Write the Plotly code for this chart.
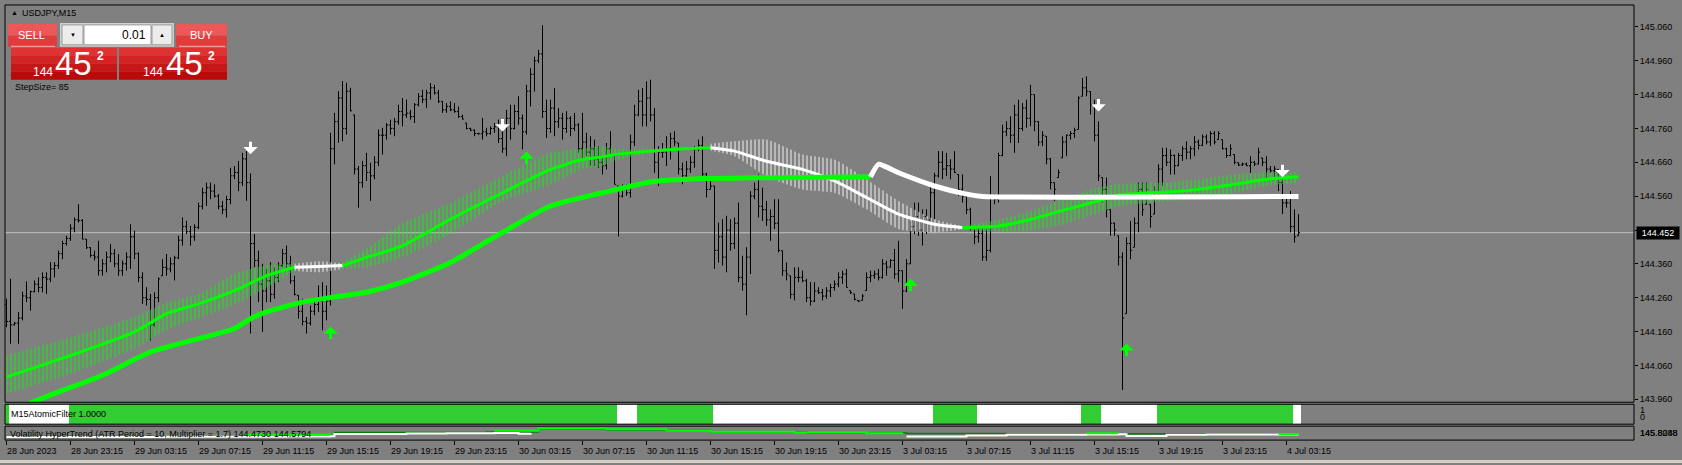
import plotly.graph_objects as go

W, H = 1682, 465
FONT = "Liberation Sans, Arial, sans-serif"


def px(x):
    return x / W


def py(y):
    return 1 - y / H


# ------------------------------------------------------------------ data
symbol = "USDJPY,M15"
current_price = 144.452

time_label_bars = [0, 16, 32, 48, 64, 80, 96, 112, 128, 144, 160, 176, 192, 208,
                   224, 240, 256, 272, 288, 304, 320]
time_labels = ["28 Jun 2023", "28 Jun 23:15", "29 Jun 03:15", "29 Jun 07:15", "29 Jun 11:15",
               "29 Jun 15:15", "29 Jun 19:15", "29 Jun 23:15", "30 Jun 03:15", "30 Jun 07:15",
               "30 Jun 11:15", "30 Jun 15:15", "30 Jun 19:15", "30 Jun 23:15", "3 Jul 03:15",
               "3 Jul 07:15", "3 Jul 11:15", "3 Jul 15:15", "3 Jul 19:15", "3 Jul 23:15",
               "4 Jul 03:15"]

price_ticks = [143.96, 144.06, 144.16, 144.26, 144.36, 144.46, 144.56, 144.66,
               144.76, 144.86, 144.96, 145.06]

opens = [
    144.240, 144.190, 144.180, 144.185, 144.200, 144.265, 144.260, 144.278, 144.300, 144.290,
    144.320, 144.315, 144.345, 144.355, 144.390, 144.420, 144.435, 144.465, 144.490, 144.488,
    144.433, 144.408, 144.385, 144.380, 144.340, 144.360, 144.380, 144.390, 144.360, 144.340,
    144.360, 144.380, 144.440, 144.390, 144.320, 144.260, 144.255, 144.180, 144.260, 144.325,
    144.350, 144.345, 144.360, 144.378, 144.430, 144.470, 144.455, 144.440, 144.468, 144.530,
    144.570, 144.585, 144.575, 144.560, 144.530, 144.520, 144.550, 144.620, 144.630, 144.600,
    144.670, 144.600, 144.420, 144.370, 144.300, 144.280, 144.310, 144.270, 144.320, 144.355,
    144.390, 144.360, 144.310, 144.267, 144.220, 144.190, 144.185, 144.220, 144.240, 144.250,
    144.220, 144.250, 144.700, 144.780, 144.850, 144.760, 144.870, 144.800, 144.640, 144.600,
    144.650, 144.630, 144.620, 144.660, 144.740, 144.740, 144.770, 144.760, 144.780, 144.810,
    144.800, 144.805, 144.795, 144.830, 144.855, 144.845, 144.865, 144.880, 144.865, 144.840,
    144.815, 144.825, 144.815, 144.810, 144.795, 144.776, 144.760, 144.755, 144.745, 144.744,
    144.750, 144.745, 144.760, 144.765, 144.730, 144.700, 144.790, 144.760, 144.810, 144.790,
    144.750, 144.870, 144.920, 144.960, 144.980, 144.810, 144.760, 144.820, 144.780, 144.790,
    144.760, 144.790, 144.760, 144.770, 144.700, 144.720, 144.690, 144.700, 144.670, 144.660,
    144.650, 144.700, 144.680, 144.590, 144.560, 144.580, 144.570, 144.720, 144.800, 144.840,
    144.800, 144.850, 144.800, 144.660, 144.690, 144.690, 144.700, 144.730, 144.717, 144.640,
    144.620, 144.640, 144.660, 144.700, 144.710, 144.625, 144.580, 144.590, 144.400, 144.440,
    144.380, 144.460, 144.420, 144.480, 144.320, 144.300, 144.380, 144.560, 144.580, 144.530,
    144.520, 144.490, 144.500, 144.480, 144.399, 144.340, 144.325, 144.270, 144.320, 144.320,
    144.310, 144.260, 144.250, 144.280, 144.275, 144.265, 144.280, 144.290, 144.300, 144.320,
    144.330, 144.281, 144.271, 144.252, 144.252, 144.281, 144.320, 144.325, 144.330, 144.320,
    144.360, 144.350, 144.370, 144.330, 144.340, 144.280, 144.360, 144.470, 144.500, 144.460,
    144.500, 144.490, 144.570, 144.620, 144.660, 144.640, 144.650, 144.640, 144.624, 144.580,
    144.560, 144.520, 144.470, 144.440, 144.450, 144.380, 144.400, 144.560, 144.550, 144.680,
    144.750, 144.760, 144.740, 144.800, 144.760, 144.820, 144.790, 144.860, 144.780, 144.720,
    144.737, 144.670, 144.600, 144.615, 144.673, 144.720, 144.740, 144.745, 144.757, 144.855,
    144.880, 144.869, 144.830, 144.740, 144.615, 144.580, 144.520, 144.480, 144.443, 144.380,
    144.213, 144.420, 144.409, 144.480, 144.580, 144.536, 144.536, 144.507, 144.570, 144.640,
    144.680, 144.660, 144.680, 144.650, 144.680, 144.700, 144.690, 144.700, 144.720, 144.710,
    144.735, 144.720, 144.745, 144.727, 144.727, 144.700, 144.680, 144.683, 144.659, 144.652,
    144.655, 144.650, 144.660, 144.655, 144.673, 144.660, 144.640, 144.635, 144.639, 144.600,
    144.540, 144.540, 144.470, 144.443,
]
highs = [
    144.257, 144.316, 144.188, 144.218, 144.278, 144.308, 144.281, 144.311, 144.320, 144.335,
    144.335, 144.365, 144.365, 144.399, 144.428, 144.443, 144.477, 144.497, 144.536, 144.492,
    144.433, 144.409, 144.399, 144.428, 144.374, 144.396, 144.419, 144.404, 144.389, 144.370,
    144.394, 144.477, 144.458, 144.394, 144.335, 144.291, 144.271, 144.276, 144.320, 144.374,
    144.389, 144.379, 144.384, 144.443, 144.497, 144.487, 144.472, 144.477, 144.541, 144.585,
    144.600, 144.600, 144.595, 144.566, 144.546, 144.561, 144.644, 144.649, 144.664, 144.688,
    144.693, 144.627, 144.448, 144.399, 144.360, 144.345, 144.365, 144.350, 144.365, 144.404,
    144.414, 144.384, 144.325, 144.267, 144.257, 144.203, 144.237, 144.257, 144.296, 144.306,
    144.296, 144.747, 144.806, 144.870, 144.900, 144.895, 144.880, 144.800, 144.649, 144.664,
    144.688, 144.659, 144.678, 144.757, 144.762, 144.776, 144.786, 144.791, 144.830, 144.850,
    144.845, 144.815, 144.835, 144.864, 144.874, 144.874, 144.894, 144.889, 144.874, 144.840,
    144.835, 144.840, 144.835, 144.825, 144.801, 144.776, 144.762, 144.757, 144.747, 144.791,
    144.762, 144.766, 144.776, 144.786, 144.762, 144.815, 144.830, 144.830, 144.855, 144.801,
    144.889, 144.938, 144.972, 144.992, 145.065, 144.845, 144.845, 144.879, 144.820, 144.806,
    144.811, 144.796, 144.806, 144.776, 144.806, 144.747, 144.737, 144.727, 144.708, 144.678,
    144.717, 144.752, 144.680, 144.590, 144.595, 144.595, 144.742, 144.830, 144.874, 144.879,
    144.899, 144.904, 144.820, 144.708, 144.717, 144.737, 144.747, 144.752, 144.717, 144.659,
    144.664, 144.678, 144.708, 144.727, 144.737, 144.629, 144.619, 144.590, 144.482, 144.492,
    144.502, 144.492, 144.497, 144.541, 144.384, 144.409, 144.575, 144.600, 144.624, 144.585,
    144.546, 144.521, 144.551, 144.551, 144.399, 144.364, 144.325, 144.350, 144.350, 144.340,
    144.316, 144.306, 144.306, 144.291, 144.286, 144.291, 144.301, 144.311, 144.335, 144.340,
    144.345, 144.281, 144.271, 144.252, 144.271, 144.335, 144.340, 144.340, 144.345, 144.374,
    144.369, 144.374, 144.404, 144.428, 144.340, 144.374, 144.487, 144.541, 144.541, 144.521,
    144.521, 144.590, 144.629, 144.693, 144.693, 144.688, 144.669, 144.693, 144.624, 144.624,
    144.561, 144.526, 144.472, 144.467, 144.472, 144.463, 144.619, 144.566, 144.688, 144.771,
    144.781, 144.796, 144.830, 144.845, 144.835, 144.845, 144.889, 144.860, 144.781, 144.752,
    144.737, 144.673, 144.600, 144.639, 144.737, 144.742, 144.752, 144.762, 144.855, 144.909,
    144.914, 144.869, 144.845, 144.781, 144.615, 144.615, 144.521, 144.482, 144.443, 144.394,
    144.438, 144.487, 144.497, 144.600, 144.600, 144.600, 144.536, 144.590, 144.654, 144.703,
    144.703, 144.698, 144.683, 144.688, 144.708, 144.722, 144.708, 144.737, 144.727, 144.742,
    144.742, 144.752, 144.752, 144.752, 144.727, 144.703, 144.713, 144.683, 144.659, 144.659,
    144.659, 144.678, 144.664, 144.703, 144.673, 144.678, 144.649, 144.649, 144.639, 144.615,
    144.566, 144.575, 144.521, 144.507,
]
lows = [
    144.173, 144.124, 144.178, 144.124, 144.193, 144.247, 144.222, 144.276, 144.276, 144.276,
    144.271, 144.306, 144.320, 144.345, 144.374, 144.414, 144.428, 144.453, 144.482, 144.433,
    144.404, 144.379, 144.370, 144.325, 144.325, 144.335, 144.365, 144.350, 144.325, 144.325,
    144.340, 144.345, 144.374, 144.306, 144.242, 144.237, 144.134, 144.173, 144.247, 144.325,
    144.325, 144.335, 144.311, 144.374, 144.414, 144.448, 144.414, 144.428, 144.463, 144.521,
    144.531, 144.551, 144.556, 144.521, 144.507, 144.497, 144.536, 144.610, 144.575, 144.590,
    144.546, 144.154, 144.350, 144.247, 144.159, 144.247, 144.247, 144.257, 144.306, 144.350,
    144.340, 144.301, 144.267, 144.198, 144.178, 144.154, 144.178, 144.208, 144.218, 144.164,
    144.193, 144.237, 144.654, 144.718, 144.722, 144.742, 144.811, 144.624, 144.526, 144.585,
    144.605, 144.546, 144.610, 144.649, 144.683, 144.727, 144.742, 144.737, 144.771, 144.766,
    144.791, 144.786, 144.776, 144.825, 144.835, 144.820, 144.845, 144.860, 144.835, 144.806,
    144.806, 144.811, 144.806, 144.791, 144.786, 144.757, 144.752, 144.737, 144.742, 144.727,
    144.737, 144.742, 144.747, 144.717, 144.688, 144.678, 144.727, 144.757, 144.771, 144.698,
    144.742, 144.825, 144.869, 144.953, 144.791, 144.732, 144.747, 144.737, 144.762, 144.727,
    144.747, 144.737, 144.752, 144.688, 144.668, 144.678, 144.649, 144.649, 144.644, 144.624,
    144.639, 144.678, 144.595, 144.441, 144.556, 144.561, 144.556, 144.708, 144.796, 144.766,
    144.766, 144.781, 144.629, 144.590, 144.673, 144.649, 144.668, 144.708, 144.624, 144.595,
    144.610, 144.629, 144.644, 144.693, 144.620, 144.556, 144.580, 144.345, 144.364, 144.355,
    144.335, 144.399, 144.404, 144.306, 144.281, 144.208, 144.330, 144.551, 144.497, 144.487,
    144.472, 144.428, 144.463, 144.394, 144.325, 144.311, 144.257, 144.252, 144.306, 144.306,
    144.247, 144.237, 144.247, 144.271, 144.252, 144.257, 144.262, 144.281, 144.291, 144.301,
    144.291, 144.271, 144.252, 144.247, 144.252, 144.281, 144.306, 144.316, 144.311, 144.316,
    144.325, 144.350, 144.316, 144.306, 144.227, 144.276, 144.360, 144.448, 144.443, 144.414,
    144.448, 144.482, 144.492, 144.615, 144.610, 144.619, 144.610, 144.629, 144.561, 144.541,
    144.507, 144.458, 144.418, 144.423, 144.369, 144.369, 144.394, 144.536, 144.541, 144.678,
    144.737, 144.717, 144.688, 144.717, 144.752, 144.762, 144.767, 144.752, 144.708, 144.708,
    144.654, 144.580, 144.546, 144.615, 144.673, 144.678, 144.727, 144.732, 144.757, 144.855,
    144.855, 144.801, 144.722, 144.605, 144.541, 144.497, 144.443, 144.443, 144.355, 143.987,
    144.213, 144.374, 144.409, 144.453, 144.502, 144.536, 144.467, 144.507, 144.561, 144.590,
    144.649, 144.624, 144.624, 144.649, 144.664, 144.669, 144.669, 144.678, 144.698, 144.708,
    144.713, 144.708, 144.713, 144.727, 144.698, 144.673, 144.678, 144.654, 144.649, 144.649,
    144.649, 144.629, 144.649, 144.654, 144.649, 144.610, 144.629, 144.615, 144.575, 144.507,
    144.526, 144.453, 144.423, 144.443,
]
closes = [
    144.190, 144.180, 144.185, 144.200, 144.265, 144.260, 144.278, 144.300, 144.290, 144.320,
    144.315, 144.345, 144.355, 144.390, 144.420, 144.435, 144.465, 144.490, 144.488, 144.433,
    144.408, 144.385, 144.380, 144.340, 144.360, 144.380, 144.390, 144.360, 144.340, 144.360,
    144.380, 144.440, 144.390, 144.320, 144.260, 144.255, 144.180, 144.260, 144.315, 144.350,
    144.345, 144.360, 144.378, 144.430, 144.470, 144.455, 144.440, 144.468, 144.530, 144.570,
    144.585, 144.575, 144.560, 144.530, 144.520, 144.550, 144.620, 144.630, 144.600, 144.670,
    144.600, 144.420, 144.370, 144.300, 144.280, 144.310, 144.270, 144.320, 144.355, 144.390,
    144.360, 144.310, 144.270, 144.220, 144.190, 144.185, 144.220, 144.240, 144.250, 144.220,
    144.250, 144.700, 144.780, 144.850, 144.760, 144.870, 144.812, 144.640, 144.600, 144.650,
    144.630, 144.620, 144.660, 144.740, 144.740, 144.770, 144.760, 144.780, 144.810, 144.800,
    144.805, 144.795, 144.830, 144.855, 144.845, 144.865, 144.880, 144.865, 144.840, 144.815,
    144.825, 144.815, 144.810, 144.795, 144.788, 144.760, 144.755, 144.745, 144.744, 144.750,
    144.745, 144.760, 144.765, 144.730, 144.700, 144.790, 144.760, 144.810, 144.790, 144.750,
    144.870, 144.920, 144.960, 144.980, 144.810, 144.760, 144.820, 144.780, 144.790, 144.760,
    144.790, 144.760, 144.770, 144.700, 144.720, 144.690, 144.700, 144.670, 144.660, 144.650,
    144.700, 144.680, 144.595, 144.560, 144.580, 144.570, 144.720, 144.800, 144.840, 144.800,
    144.850, 144.800, 144.660, 144.690, 144.690, 144.700, 144.730, 144.720, 144.640, 144.620,
    144.640, 144.660, 144.700, 144.710, 144.625, 144.580, 144.590, 144.400, 144.440, 144.380,
    144.460, 144.420, 144.480, 144.320, 144.300, 144.380, 144.560, 144.580, 144.530, 144.520,
    144.490, 144.500, 144.480, 144.400, 144.340, 144.330, 144.270, 144.320, 144.320, 144.310,
    144.260, 144.250, 144.280, 144.275, 144.265, 144.280, 144.290, 144.300, 144.320, 144.330,
    144.290, 144.275, 144.255, 144.250, 144.265, 144.320, 144.325, 144.330, 144.320, 144.360,
    144.350, 144.370, 144.330, 144.340, 144.280, 144.360, 144.470, 144.500, 144.460, 144.500,
    144.490, 144.570, 144.620, 144.660, 144.640, 144.650, 144.640, 144.630, 144.580, 144.560,
    144.520, 144.470, 144.440, 144.450, 144.380, 144.400, 144.560, 144.550, 144.680, 144.750,
    144.760, 144.740, 144.800, 144.760, 144.820, 144.790, 144.860, 144.780, 144.720, 144.740,
    144.670, 144.600, 144.580, 144.630, 144.720, 144.740, 144.745, 144.755, 144.850, 144.880,
    144.870, 144.830, 144.740, 144.620, 144.580, 144.520, 144.480, 144.460, 144.380, 144.200,
    144.420, 144.400, 144.480, 144.580, 144.520, 144.580, 144.500, 144.570, 144.640, 144.680,
    144.660, 144.680, 144.650, 144.680, 144.700, 144.690, 144.700, 144.720, 144.710, 144.735,
    144.720, 144.745, 144.720, 144.745, 144.700, 144.680, 144.700, 144.660, 144.652, 144.655,
    144.650, 144.660, 144.655, 144.690, 144.660, 144.640, 144.635, 144.640, 144.600, 144.540,
    144.540, 144.470, 144.440, 144.452,
]

# slow moving average (thick line): green part then white part
slow_green_bars = [0, 10, 24, 36, 48, 57, 61, 65, 74, 82, 90, 99, 111, 124, 136, 149, 161, 174, 186, 199, 216]
slow_green_vals = [143.920, 143.968, 144.031, 144.100, 144.139, 144.169, 144.198, 144.218, 144.247, 144.262,
                   144.276, 144.306, 144.364, 144.453, 144.531, 144.570, 144.602, 144.612, 144.614, 144.615, 144.617]
slow_white_bars = [216, 218, 223, 232, 240, 244, 323]
slow_white_vals = [144.617, 144.654, 144.629, 144.590, 144.566, 144.559, 144.559]

# fast moving average with its hatched envelope, split by colour state
fast_segments = [
    dict(color="#00ff00",
         bars=[0, 15, 32, 40, 48, 57, 65, 72],
         mid=[144.026, 144.085, 144.159, 144.213, 144.242, 144.281, 144.325, 144.350],
         lo=[143.977, 144.031, 144.110, 144.165, 144.200, 144.240, 144.290, 144.340],
         hi=[144.090, 144.139, 144.203, 144.245, 144.270, 144.330, 144.355, 144.360]),
    dict(color="#ffffff",
         bars=[72, 78, 84],
         mid=[144.350, 144.352, 144.355],
         lo=[144.340, 144.335, 144.345],
         hi=[144.360, 144.368, 144.362]),
    dict(color="#00ff00",
         bars=[84, 90, 99, 111, 124, 136, 144, 149, 152, 161, 170, 176],
         mid=[144.355, 144.379, 144.414, 144.492, 144.570, 144.639, 144.668, 144.676, 144.683, 144.693, 144.701, 144.703],
         lo=[144.345, 144.350, 144.380, 144.450, 144.545, 144.595, 144.640, 144.649, 144.665, 144.687, 144.697, 144.700],
         hi=[144.365, 144.405, 144.480, 144.540, 144.619, 144.688, 144.700, 144.708, 144.700, 144.699, 144.705, 144.706]),
    dict(color="#ffffff",
         bars=[176, 182, 190, 199, 207, 215, 223, 232, 239],
         mid=[144.703, 144.693, 144.663, 144.639, 144.605, 144.556, 144.507, 144.477, 144.467],
         lo=[144.695, 144.678, 144.619, 144.580, 144.570, 144.521, 144.463, 144.453, 144.462],
         hi=[144.715, 144.722, 144.727, 144.683, 144.668, 144.610, 144.546, 144.492, 144.472]),
    dict(color="#00ff00",
         bars=[239, 248, 257, 265, 273, 278, 290, 298, 307, 315, 323],
         mid=[144.467, 144.472, 144.494, 144.521, 144.546, 144.563, 144.572, 144.580, 144.595, 144.610, 144.617],
         lo=[144.462, 144.455, 144.460, 144.480, 144.510, 144.530, 144.545, 144.550, 144.570, 144.590, 144.600],
         hi=[144.472, 144.490, 144.520, 144.555, 144.585, 144.595, 144.600, 144.610, 144.625, 144.630, 144.630]),
]

# signal arrows (bar index, price of arrow tip)
dn_arrow_bars = [61, 124, 273, 319]
dn_arrow_prices = [144.684, 144.751, 144.810, 144.616]
up_arrow_bars = [81, 130, 226, 280]
up_arrow_prices = [144.175, 144.692, 144.316, 144.125]

# M15AtomicFilter histogram: runs of state
filter_value = 1.0
filter_run_state = ["up", "dn", "up", "dn", "up", "dn", "up", "dn", "up", "dn", "up", "dn"]
filter_run_len = [1, 15, 137, 5, 19, 55, 11, 26, 5, 14, 34, 2]

# Volatility HyperTrend lines (None = gap)
ht_white_bars = [0, 40, 70, 81, 82, 100, 110, 122, 128, 131, 131, 225, 240, 250, 270, 278, 280, 283, 290, 300, 323]
ht_white_vals = [144.23, 144.24, 144.26, 144.28, 144.44, 144.48, 144.50, 144.52, 144.46, 144.52, None,
                 144.26, 144.34, 144.38, 144.40, 144.42, 144.30, 144.30, 144.38, 144.40, 144.40]
ht_lime_bars = [60, 81, 81, 122, 133, 145, 150, 165, 176, 197, 215, 224, 224, 270, 278, 278, 318, 323]
ht_lime_vals = [144.38, 144.38, None, 144.68, 144.86, 144.86, 144.80, 144.70, 144.62, 144.55, 144.50, 144.52,
                None, 144.50, 144.50, None, 144.45, 144.45]
ht_dark_bars = [0, 60, 82, 120, 133, 150, 176, 200, 225, 250, 280, 300, 323]
ht_dark_vals = [144.25, 144.25, 144.56, 144.60, 144.80, 144.74, 144.60, 144.52, 144.48, 144.42, 144.46, 144.44, 144.44]

# ------------------------------------------------------------------ layout geometry (pixels)
X0, X1 = 5, 1634
MAIN_T, MAIN_B = 5, 404
P1_T, P1_B = 406, 426
P2_T, P2_B = 428, 442
BAR_PX = 4.0
x_range = [-0.375, (X1 - X0) / BAR_PX - 0.375]
PX_PER_UNIT = 340.0  # pixels per 1.0 price
main_range = [145.06 - (MAIN_B - 27) / PX_PER_UNIT, 145.06 + (27 - MAIN_T) / PX_PER_UNIT]

n = min(len(opens), len(highs), len(lows), len(closes))
bars = list(range(n))

fig = go.Figure()

# hatched envelopes of the fast average
for seg in fast_segments:
    fig.add_trace(go.Scatter(x=seg["bars"], y=seg["lo"], mode="lines",
                             line=dict(width=0, shape="spline", smoothing=0.6),
                             hoverinfo="skip", showlegend=False))
    fig.add_trace(go.Scatter(x=seg["bars"], y=seg["hi"], mode="lines",
                             line=dict(width=0, shape="spline", smoothing=0.6),
                             fill="tonexty", fillcolor="rgba(0,0,0,0)",
                             fillpattern=dict(shape="|", size=4, solidity=0.45,
                                              fgcolor=seg["color"], bgcolor="rgba(0,0,0,0)"),
                             hoverinfo="skip", showlegend=False))

# price bars
fig.add_trace(go.Ohlc(x=bars, open=opens[:n], high=highs[:n], low=lows[:n], close=closes[:n],
                      increasing=dict(line=dict(color="black", width=1)),
                      decreasing=dict(line=dict(color="black", width=1)),
                      tickwidth=0.4, hoverinfo="skip", showlegend=False))

# fast average centre lines
for seg in fast_segments:
    fig.add_trace(go.Scatter(x=seg["bars"], y=seg["mid"], mode="lines",
                             line=dict(color=seg["color"], width=3, shape="spline", smoothing=0.6),
                             hoverinfo="skip", showlegend=False))

# slow average
fig.add_trace(go.Scatter(x=slow_green_bars, y=slow_green_vals, mode="lines",
                         line=dict(color="#00ff00", width=5, shape="spline", smoothing=0.6),
                         hoverinfo="skip", showlegend=False))
fig.add_trace(go.Scatter(x=slow_white_bars, y=slow_white_vals, mode="lines",
                         line=dict(color="#ffffff", width=5, shape="spline", smoothing=0.5),
                         hoverinfo="skip", showlegend=False))

# AtomicFilter histogram
state_color = {"up": "#32cd32", "dn": "#ffffff"}
filter_colors = []
for st, cnt in zip(filter_run_state, filter_run_len):
    filter_colors += [state_color[st]] * cnt
fig.add_trace(go.Bar(x=bars, y=[filter_value] * n, marker=dict(color=filter_colors[:n], line=dict(width=0)),
                     width=1.0, xaxis="x2", yaxis="y2", hoverinfo="skip", showlegend=False))

# HyperTrend lines
fig.add_trace(go.Scatter(x=ht_dark_bars, y=ht_dark_vals, mode="lines", xaxis="x3", yaxis="y3",
                         line=dict(color="#008000", width=1.5, shape="hv"), hoverinfo="skip", showlegend=False))
fig.add_trace(go.Scatter(x=ht_white_bars, y=ht_white_vals, mode="lines", xaxis="x3", yaxis="y3",
                         line=dict(color="#ffffff", width=2, shape="hv"), connectgaps=False,
                         hoverinfo="skip", showlegend=False))
fig.add_trace(go.Scatter(x=ht_lime_bars, y=ht_lime_vals, mode="lines", xaxis="x3", yaxis="y3",
                         line=dict(color="#00ff00", width=2, shape="hv"), connectgaps=False,
                         hoverinfo="skip", showlegend=False))

axis_font = dict(family=FONT, size=9, color="black")
common_x = dict(range=x_range, showgrid=False, zeroline=False, showline=False, fixedrange=True)

fig.update_layout(
    width=W, height=H, margin=dict(l=0, r=0, t=0, b=0),
    paper_bgcolor="#808080", plot_bgcolor="#808080",
    showlegend=False, bargap=0, hovermode=False,
    xaxis=dict(domain=[px(X0), px(X1)], anchor="y", showticklabels=False, ticks="",
               rangeslider=dict(visible=False), **common_x),
    yaxis=dict(domain=[py(MAIN_B), py(MAIN_T)], range=main_range, anchor="x", side="right",
               tickvals=price_ticks, ticktext=[f"{v:.3f}" for v in price_ticks],
               ticks="outside", ticklen=3, tickcolor="black", tickfont=axis_font,
               showgrid=False, zeroline=False, showline=False, fixedrange=True),
    xaxis2=dict(domain=[px(X0), px(X1)], anchor="y2", showticklabels=False, ticks="", **common_x),
    yaxis2=dict(domain=[py(P1_B), py(P1_T)], range=[0, filter_value], anchor="x2", visible=False,
                fixedrange=True),
    xaxis3=dict(domain=[px(X0), px(X1)], anchor="y3", showticklabels=False, ticks="outside",
                tickvals=time_label_bars, ticklen=4, tickcolor="black", **common_x),
    yaxis3=dict(domain=[py(P2_B), py(P2_T)], range=[143.99, 145.03], anchor="x3", visible=False,
                fixedrange=True),
)

shapes = []
# current price line
shapes.append(dict(type="line", xref="paper", yref="y", x0=px(X0), x1=px(X1),
                   y0=current_price, y1=current_price, line=dict(color="#c0c0c0", width=1), layer="below"))
# panel borders
for (t, b) in [(MAIN_T, MAIN_B), (P1_T, P1_B), (P2_T, P2_B)]:
    shapes.append(dict(type="rect", xref="paper", yref="paper", x0=px(X0), x1=px(X1), y0=py(b), y1=py(t),
                       line=dict(color="black", width=1), fillcolor="rgba(0,0,0,0)", layer="above"))
# bottom window edge
shapes.append(dict(type="rect", xref="paper", yref="paper", x0=0, x1=1, y0=0, y1=py(462),
                   line=dict(width=0), fillcolor="#d4d0c8", layer="above"))


def prect(x0, y0, x1, y1, fill, line=None):
    d = dict(type="rect", xref="paper", yref="paper", x0=px(x0), x1=px(x1), y0=py(y1), y1=py(y0),
             fillcolor=fill, layer="above")
    d["line"] = dict(color=line, width=1) if line else dict(width=0)
    shapes.append(d)


# trade panel
prect(8, 24, 57, 36, "#ec5757")
prect(8, 36, 57, 47, "#e23b3b")
shapes.append(dict(type="line", xref="paper", yref="paper", x0=px(11), x1=px(55), y0=py(46.5), y1=py(46.5),
                   line=dict(color="#f4b0b0", width=1), layer="above"))
prect(176, 24, 227, 36, "#ec5757")
prect(176, 36, 227, 47, "#e23b3b")
shapes.append(dict(type="line", xref="paper", yref="paper", x0=px(179), x1=px(225), y0=py(46.5), y1=py(46.5),
                   line=dict(color="#f4b0b0", width=1), layer="above"))
prect(60, 23, 174, 47, "#cfcfcf")
prect(62, 25, 83, 45, "#ececec", "#9a9a9a")
prect(84, 25, 151, 45, "#ffffff", "#9a9a9a")
prect(152, 25, 172, 45, "#ececec", "#9a9a9a")
for (bx0, bx1) in [(11, 117), (119, 227)]:
    prect(bx0, 48, bx1, 56, "#df3333")
    prect(bx0, 56, bx1, 64, "#d32424")
    prect(bx0, 64, bx1, 72, "#c71616")
    prect(bx0, 72, bx1, 80, "#b90909")

fig.update_layout(shapes=shapes)

ann = []


def ptext(x, y, text, size=9, color="black", anchor="left", bold=False):
    ann.append(dict(xref="paper", yref="paper", x=px(x), y=py(y), text=f"<b>{text}</b>" if bold else text,
                    showarrow=False, xanchor=anchor, yanchor="middle",
                    font=dict(family=FONT, size=size, color=color)))


ptext(9, 13, "▲", size=7)
ptext(20, 13, symbol)
ptext(32, 35, "SELL", size=11, color="white", anchor="center")
ptext(201, 35, "BUY", size=11, color="white", anchor="center")
ptext(72.5, 35, "▼", size=6, anchor="center")
ptext(162, 35, "▲", size=6, anchor="center")
ptext(148, 35, "0.01", size=12, anchor="right")
for (x144, x45, x2) in [(31, 53, 95), (141, 164, 206)]:
    ptext(x144, 72, "144", size=12, color="white")
    ptext(x45, 64, "45", size=33, color="white")
    ptext(x2, 56, "2", size=12, color="white", bold=True)
ptext(13, 87, "StepSize= 85")
ptext(9, 416, "M15AtomicFilter 1.0000")
ptext(8, 436, "Volatility HyperTrend (ATR Period = 10, Multiplier = 1.7) 144.4730 144.5794")
ptext(1638, 412, "1")
ptext(1638, 419, "0")
ptext(1638, 435, "145.8088")
ptext(1638, 435, "145.8248")

for b, lab in zip(time_label_bars, time_labels):
    ann.append(dict(xref="x3", yref="paper", x=b, y=py(453), text=lab, showarrow=False,
                    xanchor="left", yanchor="middle", xshift=-2,
                    font=dict(family=FONT, size=9, color="black")))

# current price box on axis
ann.append(dict(xref="paper", yref="y", x=px(1636), y=current_price, text=f"{current_price:.3f}",
                showarrow=False, xanchor="left", yanchor="middle", bgcolor="black",
                width=40, height=10, align="center",
                font=dict(family=FONT, size=9, color="white")))

# arrows
for b, p in zip(dn_arrow_bars, dn_arrow_prices):
    ann.append(dict(xref="x", yref="y", x=b, y=p, ax=0, ay=-14, text="", showarrow=True,
                    arrowhead=1, arrowsize=0.8, arrowwidth=3, arrowcolor="white", standoff=0))
for b, p in zip(up_arrow_bars, up_arrow_prices):
    ann.append(dict(xref="x", yref="y", x=b, y=p, ax=0, ay=14, text="", showarrow=True,
                    arrowhead=1, arrowsize=0.8, arrowwidth=3, arrowcolor="#00ff00", standoff=0))

fig.update_layout(annotations=ann)

fig.write_html("out.html", config={"displayModeBar": False},
               post_script="document.body.style.margin='0px';document.body.style.overflow='hidden';")
